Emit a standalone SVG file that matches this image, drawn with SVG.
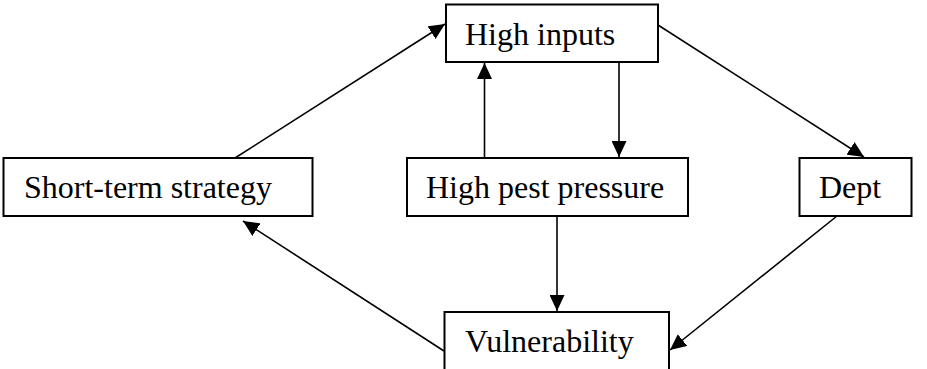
<svg xmlns="http://www.w3.org/2000/svg" width="927" height="369" viewBox="0 0 927 369">
  <defs>
    <marker id="arrow" viewBox="0 0 16 15" refX="16" refY="7.5" markerWidth="16" markerHeight="15" markerUnits="userSpaceOnUse" orient="auto">
      <path d="M0,0 L16,7.5 L0,15 Z" fill="#000"/>
    </marker>
  </defs>
  <style>
    .box { fill: #fff; stroke: #000; stroke-width: 2; }
    .label { font-family: "Liberation Serif", "Times New Roman", serif; font-size: 32px; fill: #000; }
    .edge { stroke: #000; stroke-width: 1.6; fill: none; marker-end: url(#arrow); }
  </style>
  <rect width="927" height="369" fill="#fff"/>

  <g id="connectors">
    <line class="edge" x1="235" y1="158" x2="445" y2="24"/>
    <line class="edge" x1="484.5" y1="158" x2="484.5" y2="63"/>
    <line class="edge" x1="619" y1="63" x2="619" y2="157"/>
    <line class="edge" x1="658" y1="25" x2="864" y2="157"/>
    <line class="edge" x1="557" y1="217" x2="557" y2="311"/>
    <line class="edge" x1="837" y1="216" x2="670" y2="350"/>
    <line class="edge" x1="444" y1="351" x2="243" y2="221"/>
  </g>

  <g id="node-high-inputs">
    <rect class="box" x="446" y="4.5" width="212" height="57.5"/>
    <text class="label" x="465" y="45">High inputs</text>
  </g>

  <g id="node-short-term-strategy">
    <rect class="box" x="3.5" y="158" width="309" height="58"/>
    <text class="label" x="24" y="198">Short-term strategy</text>
  </g>

  <g id="node-high-pest-pressure">
    <rect class="box" x="407" y="158" width="281" height="58"/>
    <text class="label" x="426" y="198">High pest pressure</text>
  </g>

  <g id="node-dept">
    <rect class="box" x="799.5" y="158" width="112" height="58"/>
    <text class="label" x="819" y="198">Dept</text>
  </g>

  <g id="node-vulnerability">
    <rect class="box" x="444.5" y="312" width="224.5" height="60"/>
    <text class="label" x="465" y="352">Vulnerability</text>
  </g>
</svg>
